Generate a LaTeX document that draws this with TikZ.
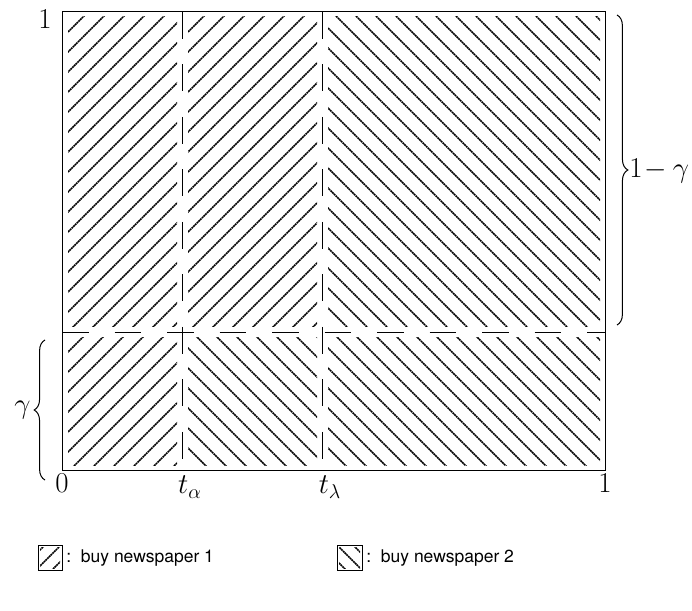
\documentclass[tikz,border=0pt]{standalone}
\usepackage{fontspec}
\newfontfamily\legfont{TeX Gyre Heros}
\usetikzlibrary{decorations.pathreplacing}
\newcommand\hatchne[4]{% x1 y1 x2 y2 (pixel coords)
  \begin{scope}
    \clip (#1,#2) rectangle (#3,#4);
    \foreach \c in {0,20,...,1100} {\draw[hatchline] (\c-700,700) -- (\c+100,-100);}
  \end{scope}}
\newcommand\hatchnw[4]{%
  \begin{scope}
    \clip (#1,#2) rectangle (#3,#4);
    \foreach \c in {-440,-420,...,640} {\draw[hatchline] (\c-100,-100) -- (\c+700,700);}
  \end{scope}}
\begin{document}
\begin{tikzpicture}[x=0.6pt,y=-0.6pt,
  hatchline/.style={line width=0.95pt, black, dash pattern=on 1.1pt off 0.35pt},
  frame/.style={line width=0.6pt},
  divider/.style={line width=0.6pt, dash pattern=on 16pt off 15.5pt},
  lbl/.style={font=\LARGE, inner sep=0pt},
  legtext/.style={font=\legfont\fontsize{10.5}{12}\selectfont, anchor=west, inner sep=0pt},
  legbox/.style={line width=0.5pt},
  bracestyle/.style={decorate, decoration={brace, amplitude=6.5pt}, line width=0.6pt}]
\useasboundingbox (0,0) rectangle (692,611);

% hatched cells (inset from the borders)
\hatchne{68}{17}{177}{327}
\hatchne{188}{17}{317}{327}
\hatchnw{328}{17}{600}{327}
\hatchne{68}{337}{177}{465}
\hatchnw{188}{337}{317}{465}
\hatchnw{328}{337}{600}{465}

% frame and dividers
\coordinate (tl) at (62,12);
\coordinate (br) at (605,470);
\coordinate (hl) at (62,332);
\coordinate (hr) at (605,332);
\coordinate (at) at (182,12);
\coordinate (ab) at (182,470);
\coordinate (lt) at (322,12);
\coordinate (lb) at (322,470);
\draw[frame] (tl) rectangle (br);
\draw[divider] (hl) -- (hr);
\draw[divider] (at) -- (ab);
\draw[divider] (lt) -- (lb);

% axis labels
\node[lbl] (ytop) at (45,19) {$1$};
\node[lbl] (x0) at (62,483) {$0$};
\node[lbl] (xa) at (190,487) {$t_\alpha$};
\node[lbl] (xl) at (330,487) {$t_\lambda$};
\node[lbl] (x1) at (605,483) {$1$};

% braces
\coordinate (rb1) at (617,15);
\coordinate (rb2) at (617,325);
\draw[bracestyle] (rb1) -- (rb2);
\node[lbl, anchor=west] (oneminus) at (629,171) {$1\!-\gamma$};
\coordinate (lb1) at (45,480);
\coordinate (lb2) at (45,340);
\draw[bracestyle] (lb1) -- (lb2);
\node[lbl, anchor=east] (gam) at (31,410) {$\gamma$};

% legend
\coordinate (k1a) at (38,545);
\coordinate (k1b) at (62,570);
\begin{scope}
  \clip (40,547) rectangle (60,568);
  \foreach \c in {590,606,622} {\draw[hatchline] (\c-610,610) -- (\c-510,510);}
\end{scope}
\draw[legbox] (k1a) rectangle (k1b);
\node[legtext] (t1) at (66,558) {:\ \ buy newspaper 1};

\coordinate (k2a) at (337,545);
\coordinate (k2b) at (362,570);
\begin{scope}
  \clip (339,547) rectangle (360,568);
  \foreach \c in {-224,-208,-192} {\draw[hatchline] (\c+510,510) -- (\c+610,610);}
\end{scope}
\draw[legbox] (k2a) rectangle (k2b);
\node[legtext] (t2) at (366,558) {:\ \ buy newspaper 2};
\end{tikzpicture}
\end{document}
